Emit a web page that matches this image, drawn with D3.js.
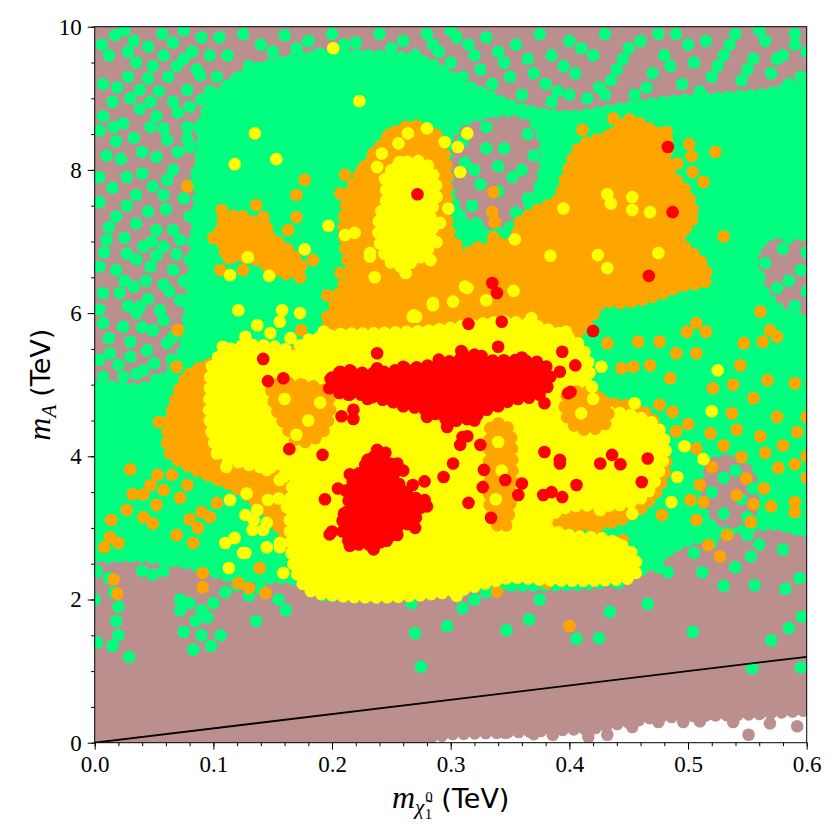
<!DOCTYPE html>
<html>
<head>
<meta charset="utf-8">
<script src="https://cdn.jsdelivr.net/npm/d3@7"></script>
<style>
  body { margin: 0; background: #fff; }
  svg { display: block; }
</style>
</head>
<body>
<div id="chart"></div>
<script>
/*------------------------------------------------------------------
 *  m_A vs neutralino mass scatter (dense cores + scattered points)
 *------------------------------------------------------------------*/
const xTicks = [0, 0.1, 0.2, 0.3, 0.4, 0.5, 0.6]
const yTicks = [0, 2, 4, 6, 8, 10]

// m_A = 2 m_chi reference line
const diagX = [0, 0.6]
const diagY = [0, 1.2]

// ---- dense regions [m_chi, m_A] ----
const brownCore = [[0,-0.5],[0.27,-0.5],[0.27,0.02],[0.3,0.12],[0.36,0.15],[0.42,0.2],[0.47,0.35],[0.52,0.38],[0.56,0.4],[0.6,0.45],[0.65,0.45],[0.65,10.5],[0,10.5],[-0.05,10.5],[-0.05,-0.5]]

const greenCore = [[0.095,8.84],[0.122,9.3],[0.17,9.55],[0.23,9.6],[0.28,9.5],[0.3,9.3],[0.33,9.05],[0.36,8.85],[0.40,8.75],[0.44,8.85],[0.48,8.95],[0.52,9.0],[0.56,9.05],[0.61,9.1],[0.61,7.15],[0.57,7.1],[0.555,6.8],[0.56,6.4],[0.58,6.0],[0.61,5.8],[0.61,3.0],[0.57,3.05],[0.53,2.95],[0.49,2.75],[0.465,2.45],[0.43,2.25],[0.38,2.2],[0.3,2.2],[0.25,2.2],[0.2,2.2],[0.16,2.3],[0.12,2.3],[0.08,2.5],[0.04,2.6],[-0.01,2.7],[-0.01,4.9],[0.04,4.95],[0.06,5.1],[0.075,5.5],[0.08,6.2],[0.085,7.0],[0.088,7.8],[0.09,8.4]]

const brownPatches = [
  [[0.31,8.5],[0.335,8.65],[0.36,8.65],[0.37,8.35],[0.368,7.9],[0.355,7.45],[0.338,7.25],[0.32,7.35],[0.308,7.7],[0.305,8.1]],
  [[0.522,3.9],[0.542,3.92],[0.555,3.6],[0.55,3.15],[0.528,3.1],[0.516,3.5]]
]

const orangeCores = [
  [[0.068,4.79],[0.08,5.15],[0.1,5.3],[0.13,5.35],[0.165,5.45],[0.19,5.6],[0.2,6.0],[0.21,6.4],[0.232,6.62],[0.274,6.75],[0.316,6.85],[0.358,7.0],[0.392,6.88],[0.417,6.53],[0.426,6.18],[0.409,5.76],[0.392,5.48],[0.401,5.07],[0.426,4.79],[0.46,4.65],[0.476,4.37],[0.481,3.81],[0.468,3.39],[0.443,3.11],[0.392,2.97],[0.342,2.55],[0.316,2.34],[0.283,2.27],[0.207,2.2],[0.175,2.45],[0.16,2.9],[0.14,3.3],[0.12,3.55],[0.1,3.7],[0.08,3.85],[0.062,4.09]],
  [[0.215,7.7],[0.235,8.2],[0.25,8.5],[0.268,8.62],[0.287,8.5],[0.296,8.1],[0.297,7.3],[0.302,6.8],[0.29,6.4],[0.25,6.3],[0.22,6.5],[0.21,7.1]],
  [[0.409,8.32],[0.437,8.51],[0.448,8.7],[0.465,8.6],[0.482,8.42],[0.482,8.04],[0.499,7.68],[0.504,7.34],[0.493,7.02],[0.51,6.74],[0.516,6.46],[0.493,6.37],[0.471,6.23],[0.443,6.14],[0.423,6.18],[0.409,6.09],[0.395,6.18],[0.381,6.37],[0.367,6.79],[0.356,7.2],[0.373,7.44],[0.39,7.58],[0.398,7.95]],
  [[0.108,7.3],[0.125,7.35],[0.145,7.1],[0.165,6.85],[0.175,6.6],[0.16,6.55],[0.135,6.75],[0.11,6.85]]
]

const yellowCores = [
  [[0.173,5.55],[0.198,5.69],[0.24,5.72],[0.283,5.76],[0.316,5.83],[0.35,5.88],[0.384,5.76],[0.409,5.55],[0.417,5.2],[0.413,4.79],[0.426,4.65],[0.451,4.58],[0.472,4.44],[0.481,4.16],[0.476,3.81],[0.464,3.46],[0.443,3.32],[0.417,3.32],[0.392,3.25],[0.379,3.04],[0.4,2.9],[0.434,2.83],[0.454,2.62],[0.455,2.34],[0.426,2.27],[0.384,2.27],[0.35,2.3],[0.333,2.24],[0.308,2.13],[0.274,2.06],[0.24,2.03],[0.207,2.05],[0.181,2.13],[0.169,2.41],[0.165,2.83],[0.165,3.39],[0.169,3.81],[0.173,4.37],[0.173,5.07]],
  [[0.1,5.3],[0.115,5.5],[0.14,5.55],[0.165,5.45],[0.175,5.05],[0.178,4.5],[0.17,4.0],[0.15,3.85],[0.125,3.9],[0.105,4.05],[0.097,4.5],[0.097,4.9]],
  [[0.245,7.9],[0.255,8.05],[0.265,8.12],[0.278,8.1],[0.286,7.9],[0.288,7.6],[0.283,7.4],[0.285,7.1],[0.279,6.85],[0.266,6.7],[0.255,6.65],[0.246,6.78],[0.24,7.0],[0.24,7.35],[0.246,7.6]]
]

// orange showing through holes in the yellow cores
const orangeGaps = [
  [[0.335,4.45],[0.348,4.4],[0.352,3.9],[0.35,3.3],[0.345,3.0],[0.336,3.1],[0.332,3.6],[0.333,4.1]],
  [[0.15,4.98],[0.175,5.0],[0.195,4.9],[0.198,4.6],[0.19,4.3],[0.172,4.2],[0.16,4.45],[0.152,4.7]],
  [[0.398,4.85],[0.415,4.9],[0.432,4.7],[0.43,4.45],[0.41,4.38],[0.398,4.55]]
]

const redCores = [
  [[0.196,4.99],[0.207,5.18],[0.232,5.16],[0.253,5.2],[0.274,5.25],[0.297,5.32],[0.316,5.37],[0.333,5.34],[0.358,5.34],[0.379,5.28],[0.384,5.07],[0.375,4.86],[0.354,4.79],[0.333,4.67],[0.316,4.53],[0.3,4.5],[0.283,4.62],[0.27,4.68],[0.253,4.75],[0.24,4.8],[0.224,4.86],[0.207,4.88]],
  [[0.219,3.67],[0.228,3.88],[0.239,4.02],[0.249,3.92],[0.253,3.7],[0.261,3.53],[0.272,3.39],[0.274,3.22],[0.266,3.08],[0.253,2.97],[0.245,2.83],[0.228,2.76],[0.213,2.83],[0.208,3.04],[0.215,3.32],[0.211,3.5]]
]

// ---- scattered points [m_chi, m_A] ----
const brownPts = [[0.496,0.29],[0.538,0.29],[0.551,0.11],[0.592,0.23],[0.569,0.27],[0.475,0.29],[0.453,0.22],[0.432,0.11],[0.416,0.08],[0.386,0.11],[0.346,0.14],[0.285,0.11],[0.311,0.2],[0.516,0.39],[0.37,0.12],[0.51,0.3]]

const greenPts = [
  [0.006,9.75],[0.017,9.88],[0.033,9.8],[0.045,9.72],[0.066,9.78],[0.082,9.65],[0.097,9.6],
  [0.035,9.5],[0.049,9.45],[0.069,9.45],[0.086,9.4],
  [0.007,9.2],[0.019,9.15],[0.038,9.12],[0.054,9.1],[0.078,9.12],[0.089,9.32],[0.103,9.3],
  [0.007,8.75],[0.024,8.65],[0.038,8.85],[0.052,8.75],[0.066,8.95],[0.08,8.88],[0.09,8.98],
  [0.018,8.4],[0.033,8.45],[0.047,8.6],[0.061,8.42],[0.078,8.44],[0.078,8.6],
  [0.01,8.2],[0.027,7.9],[0.052,8.18],[0.066,8.0],[0.08,8.32],[0.092,8.14],
  [0.004,7.9],[0.035,7.65],[0.049,7.77],[0.061,7.86],[0.075,7.6],
  [0.004,7.55],[0.018,7.35],[0.035,7.25],[0.052,7.16],[0.066,7.16],[0.08,7.35],
  [0.01,7.02],[0.027,6.83],[0.041,6.93],[0.058,6.93],[0.072,7.02],
  [0.004,6.65],[0.018,6.6],[0.033,6.37],[0.047,6.65],[0.066,6.6],[0.08,6.74],
  [0.007,6.28],[0.021,6.28],[0.038,6.09],[0.055,6.04],[0.072,6.18],
  [0.007,5.86],[0.024,5.81],[0.035,6.0],[0.049,5.76],[0.066,5.67],[0.08,5.9],
  [0.013,5.44],[0.03,5.39],[0.044,5.48],[0.061,5.58],
  [0.007,5.11],[0.024,5.11],[0.041,5.2],[0.016,4.95],[0.052,5.07],
  [0.025,9.95],[0.057,9.9],[0.075,9.95],[0.09,9.85],
  [0.012,9.6],[0.028,9.65],[0.058,9.6],[0.075,9.55],
  [0.028,9.3],[0.045,9.28],[0.062,9.3],[0.097,9.1],
  [0.015,8.95],[0.03,9.0],[0.047,8.95],[0.07,8.8],
  [0.004,8.55],[0.016,8.6],[0.058,8.58],[0.088,8.6],
  [0.022,8.15],[0.04,8.25],[0.07,8.25],[0.086,7.95],
  [0.015,7.75],[0.04,7.95],[0.058,7.65],[0.082,7.8],[0.09,7.6],
  [0.027,7.5],[0.045,7.42],[0.06,7.45],[0.087,7.2],
  [0.012,7.2],[0.025,7.05],[0.048,7.0],[0.083,7.0],
  [0.008,6.85],[0.035,6.75],[0.052,6.8],[0.069,6.82],[0.086,6.55],
  [0.025,6.45],[0.043,6.45],[0.058,6.4],[0.075,6.45],
  [0.004,6.05],[0.028,6.1],[0.045,6.2],[0.063,6.3],[0.085,6.2],
  [0.012,5.65],[0.03,5.6],[0.058,5.9],[0.075,5.75],[0.04,5.8],
  [0.004,5.35],[0.02,5.28],[0.05,5.3],[0.065,5.35],[0.035,5.15],
  [0.105,9.85],[0.125,9.9],[0.14,9.75],[0.16,9.88],[0.18,9.8],[0.2,9.9],[0.22,9.78],[0.24,9.9],[0.26,9.8],[0.28,9.9],[0.29,9.65],[0.3,9.5],
  [0.112,9.6],[0.13,9.45],[0.15,9.65],[0.17,9.7],[0.19,9.62],[0.21,9.75],[0.25,9.7],[0.27,9.6],[0.285,9.75],[0.3,9.95],
  [0.305,9.85],[0.31,9.3],[0.32,9.6],[0.33,9.85],[0.335,9.2],[0.345,9.5],[0.355,9.75],[0.36,9.05],[0.37,9.35],[0.375,9.9],[0.385,9.6],[0.39,9.1],[0.4,9.8],[0.405,9.35],[0.415,9.0],[0.42,9.6],[0.43,9.9],[0.435,9.25],[0.445,9.55],[0.455,9.05],[0.46,9.8],[0.47,9.35],[0.48,9.6],[0.49,9.9],[0.495,9.2],[0.505,9.5],[0.515,9.8],[0.52,9.3],[0.53,9.6],[0.54,9.9],[0.545,9.25],[0.555,9.55],[0.565,9.8],[0.57,9.35],[0.58,9.6],[0.59,9.9],[0.595,9.3],[0.6,9.65],
  [0.315,9.75],[0.325,9.4],[0.34,9.65],[0.35,9.3],[0.365,9.55],[0.38,9.2],[0.395,9.45],[0.41,9.7],[0.425,9.15],[0.44,9.4],[0.45,9.7],[0.465,9.15],[0.475,9.9],[0.485,9.45],[0.5,9.75],[0.51,9.1],[0.525,9.45],[0.535,9.75],[0.55,9.4],[0.56,9.95],[0.575,9.55],[0.585,9.2],[0.59,9.75],[0.385,8.95],[0.4,9.05],[0.43,9.05],[0.33,8.95],[0.345,8.85],
  [0.31,8.4],[0.32,8.0],[0.33,8.6],[0.34,7.7],[0.345,8.3],[0.355,7.4],[0.36,8.0],[0.35,7.2],[0.365,8.5],[0.318,7.5],
  [0.312,8.1],[0.325,7.8],[0.33,8.3],[0.352,7.9],[0.37,8.2],[0.34,8.05],[0.322,7.25],[0.365,7.6],
  [0.55,7.0],[0.565,6.7],[0.58,6.9],[0.595,6.6],[0.555,6.3],[0.575,6.35],[0.59,6.1],[0.57,5.95],
  [0.585,7.05],[0.6,6.85],[0.56,6.5],[0.585,6.45],[0.6,6.3],[0.56,6.1],[0.58,5.85],
  [0.53,3.7],[0.545,3.4],[0.53,3.2],[0.52,3.5],[0.54,3.8],[0.555,3.55],[0.55,3.15],
  [0.002,2.39],[0.012,2.3],[0.016,2.1],[0.02,1.9],[0.018,1.7],[0.02,1.5],[0.015,1.35],[0.002,1.4],[0.029,1.2],[0.072,1.85],[0.08,1.95],[0.09,1.85],[0.085,1.7],[0.095,1.75],[0.1,1.95],[0.075,1.55],[0.09,1.5],[0.098,1.35],[0.083,1.3],[0.106,1.5],[0.072,2.0],[0.058,2.4],[0.04,2.4],[0.049,2.35],[0.136,1.7],[0.161,1.85],[0.192,2.06],[0.2,2.05],[0.267,1.95],[0.27,1.53],[0.275,1.06],[0.297,1.63],[0.31,1.88],[0.32,2.0],[0.33,2.1],[0.347,1.57],[0.366,1.72],[0.375,2.0],[0.406,1.45],[0.425,1.46],[0.434,1.83],[0.466,1.94],[0.504,1.55],[0.57,1.43],[0.585,1.6],[0.596,1.76],[0.554,1.04],[0.595,1.05],[0.53,2.19],[0.556,2.2],[0.582,2.15],[0.594,2.3],[0.553,2.6],[0.54,2.45],[0.512,2.38],[0.483,2.38],[0.475,2.45],[0.458,2.66],[0.441,2.23],[0.56,2.77],[0.58,2.7],[0.505,2.65],[0.12,2.2],[0.14,2.15],[0.155,2.0],[0.13,2.05],[0.11,2.1],[0.03,2.6],[0.06,2.55],[0.0,2.0],[0.55,2.9],[0.52,2.8]
]

const orangePts = [
  [0.03,3.82],[0.032,3.47],[0.041,3.47],[0.047,3.6],[0.053,3.74],[0.065,3.74],[0.058,3.53],[0.052,3.32],[0.041,3.15],[0.049,3.06],[0.027,3.25],[0.014,3.11],[0.013,2.87],[0.02,2.79],[0.008,2.73],[0.016,2.28],[0.019,2.08],[0.069,2.9],[0.083,2.79],[0.08,3.12],[0.087,3.0],[0.09,3.22],[0.072,3.42],[0.078,3.6],[0.091,2.37],[0.091,2.17],[0.121,2.23],[0.13,2.16],[0.139,2.44],[0.144,2.09],[0.103,3.35],[0.097,3.15],[0.066,4.32],[0.078,4.22],[0.089,4.32],[0.054,4.48],
  [0.078,7.77],[0.07,5.76],[0.069,5.25],[0.107,7.44],[0.136,7.51],[0.142,7.34],[0.177,7.86],[0.17,7.65],[0.17,7.34],[0.163,7.16],[0.106,6.6],[0.113,6.77],[0.184,6.74],[0.173,6.5],[0.196,6.25],[0.212,5.95],[0.196,5.95],[0.174,5.76],[0.207,7.67],[0.211,7.93],[0.226,8.02],[0.235,8.23],[0.248,8.49],[0.218,7.39],[0.215,6.98],[0.207,6.56],
  [0.11,7.2],[0.12,7.0],[0.13,6.9],[0.15,7.0],[0.155,6.8],[0.125,6.6],[0.1,7.05],[0.145,7.2],
  [0.541,4.37],[0.561,4.28],[0.592,4.34],[0.519,4.32],[0.507,4.11],[0.545,3.99],[0.576,3.84],[0.59,3.89],[0.549,3.69],[0.564,3.55],[0.541,3.46],[0.555,3.33],[0.59,3.36],[0.59,3.22],[0.553,3.08],[0.533,2.9],[0.517,2.76],[0.527,2.6],[0.502,3.39],[0.513,3.36],[0.507,3.11],[0.478,3.18],[0.422,3.0],[0.445,2.83],[0.339,2.11],[0.381,2.23],[0.4,1.63],
  [0.5,4.45],[0.53,4.15],[0.565,4.05],[0.58,4.15],[0.6,3.7],[0.57,3.3],[0.52,3.85],[0.49,4.35],[0.6,4.55],[0.6,4.0],[0.575,4.55],[0.51,3.6],
  [0.523,8.25],[0.501,8.36],[0.503,8.19],[0.491,8.09],[0.504,7.97],[0.513,7.83],[0.53,7.07],[0.503,7.33],[0.5,7.53],[0.513,6.6],[0.499,6.5],[0.561,6.02],[0.569,5.76],[0.575,5.67],[0.547,5.58],[0.563,5.6],[0.507,5.86],[0.515,5.74],[0.499,5.74],[0.476,5.6],[0.458,5.6],[0.444,5.23],[0.454,5.25],[0.468,5.27],[0.485,5.09],[0.49,5.44],[0.507,5.44],[0.544,5.27],[0.567,5.06],[0.59,5.02],[0.521,4.95],[0.538,5.0],[0.555,4.81],[0.476,4.72],[0.487,4.62],[0.537,4.6],[0.42,6.0],[0.432,5.58],[0.336,7.69],[0.335,7.41],[0.337,7.27],[0.336,7.06],[0.305,6.95],[0.323,6.92],[0.326,6.78],[0.411,8.56],[0.437,8.72],[0.451,8.7],[0.471,8.51],[0.482,8.53]
]

const yellowPts = [
  [0.201,9.7],[0.223,8.96],[0.135,8.51],[0.118,8.08],[0.153,8.15],[0.197,7.22],[0.211,7.09],[0.219,7.12],[0.177,6.89],[0.129,6.78],[0.114,6.53],[0.147,6.52],[0.121,6.04],[0.158,6.04],[0.173,6.0],[0.156,5.88],[0.137,5.83],[0.193,5.74],[0.216,5.47],[0.236,5.58],[0.263,5.58],[0.268,5.95],
  [0.238,8.04],[0.242,8.23],[0.256,8.37],[0.264,8.51],[0.28,8.58],[0.257,8.11],[0.246,7.48],[0.232,6.84],[0.236,6.5],[0.262,6.56],[0.295,8.39],[0.306,8.32],[0.314,8.51],[0.308,7.97],[0.298,7.46],[0.291,7.26],[0.288,6.99],[0.232,6.79],[0.283,6.74],[0.271,5.95],[0.314,6.35],[0.302,6.16],[0.285,6.14],[0.33,6.18],[0.308,5.76],
  [0.432,7.66],[0.435,7.53],[0.453,7.62],[0.453,7.44],[0.468,7.41],[0.395,7.46],[0.354,7.03],[0.384,6.8],[0.424,6.81],[0.475,6.84],[0.432,6.63],[0.353,6.31],[0.368,5.93],[0.397,5.74],[0.336,5.83],[0.525,5.2],[0.52,4.63],[0.455,4.74],[0.427,5.25],[0.419,4.97],[0.312,6.37],
  [0.497,4.14],[0.513,3.96],[0.491,3.71],[0.486,3.36],[0.453,3.2],[0.45,3.39],[0.439,2.79],[0.426,3.25],[0.305,2.05],
  [0.103,4.04],[0.111,3.85],[0.114,3.39],[0.128,3.48],[0.11,2.79],[0.118,2.86],[0.113,2.44],[0.127,2.65],[0.137,3.25],[0.142,2.97],[0.145,2.73],[0.156,2.73],[0.159,2.37],[0.145,3.81],[0.159,3.71],[0.155,3.41],[0.134,3.11],[0.127,3.18],[0.137,3.95],[0.146,3.88],[0.146,3.39],[0.156,3.67],[0.164,3.84],[0.162,3.29],[0.133,2.97],[0.145,3.07],[0.156,2.79],[0.125,2.65],
  [0.127,5.67],[0.108,5.53],[0.106,5.25],[0.148,5.72],[0.165,5.65],[0.181,5.48],[0.217,5.45],[0.269,5.97],[0.285,6.11],[0.314,5.79],
  [0.34,4.2],[0.343,3.8],[0.338,3.4],[0.16,4.8],[0.18,4.5],[0.19,4.75],[0.17,4.3],[0.41,4.6],[0.42,4.8]
]

const redPts = [
  [0.483,8.32],[0.487,7.41],[0.467,6.52],[0.335,6.42],[0.339,6.28],[0.343,5.88],[0.42,5.75],[0.272,7.66],[0.315,5.85],[0.142,5.36],[0.146,5.05],[0.159,5.09],[0.238,5.44],[0.238,5.23],[0.214,4.86],[0.208,4.56],[0.218,4.65],[0.218,4.52],[0.164,4.1],[0.192,4.02],[0.194,3.4],[0.198,2.91],[0.246,2.82],[0.278,3.65],[0.255,3.9],[0.238,4.09],[0.31,5.44],[0.314,4.28],[0.308,4.16],[0.302,3.9],[0.294,3.71],[0.315,3.35],[0.297,4.41],[0.28,4.55],[0.394,5.46],[0.326,5.4],[0.405,5.27],[0.392,5.18],[0.401,4.9],[0.379,4.74],[0.31,4.27],[0.325,4.16],[0.379,4.06],[0.392,3.9],[0.426,3.9],[0.436,4.02],[0.443,3.89],[0.466,3.97],[0.461,3.64],[0.328,3.81],[0.327,3.57],[0.346,3.67],[0.36,3.62],[0.357,3.46],[0.378,3.46],[0.385,3.5],[0.394,3.43],[0.406,3.6],[0.334,3.14],[0.278,3.39],[0.309,5.47],[0.34,5.53],[0.399,4.88],[0.392,3.95],
  [0.2,5.1],[0.215,5.2],[0.225,5.05],[0.26,5.25],[0.29,5.35],[0.32,5.42],[0.36,5.38],[0.37,5.2],[0.36,4.9],[0.34,4.7],[0.32,4.5],[0.3,4.55],[0.26,4.7],[0.23,4.8],[0.21,4.95],
  [0.205,3.55],[0.215,3.75],[0.23,3.95],[0.245,4.05],[0.26,3.8],[0.268,3.6],[0.28,3.3],[0.27,3.0],[0.255,2.9],[0.235,2.7],[0.215,2.75],[0.2,2.95],[0.21,3.2]
]

const colors = { brown: '#bc8f8f', green: '#00ff7f', orange: '#ffa500', yellow: '#ffff00', red: '#ff0000' }

/*------------------------------------------------------------------
 *  Layout
 *------------------------------------------------------------------*/
const width = 840, height = 840
const margin = { top: 26.7, right: 33.3, bottom: 97.3, left: 94.7 }
const plotW = width - margin.left - margin.right,
      plotH = height - margin.top - margin.bottom
const dotR = 6.3

const svg = d3.select('#chart').append('svg')
    .attr('width', width)
    .attr('height', height)

const xScale = d3.scaleLinear().domain([0, 0.6]).range([0, plotW])
const yScale = d3.scaleLinear().domain([0, 10]).range([plotH, 0])

const g = svg.append('g')
    .attr('transform', 'translate(' + margin.left + ',' + margin.top + ')')

svg.append('defs').append('clipPath').attr('id', 'plotclip')
  .append('rect').attr('width', plotW).attr('height', plotH)

const marks = g.append('g').attr('clip-path', 'url(#plotclip)')

const smoothLine = d3.line()
    .x(d => xScale(d[0]))
    .y(d => yScale(d[1]))
    .curve(d3.curveCatmullRomClosed.alpha(0.5))
const flatLine = d3.line()
    .x(d => xScale(d[0]))
    .y(d => yScale(d[1]))
    .curve(d3.curveLinearClosed)

// dense core: filled shape with a chain of dots round its edge
function drawCores(cores, color, smooth) {
  const line = smooth ? smoothLine : flatLine
  marks.append('g').selectAll('path')
    .data(cores)
    .join('path')
      .attr('d', d => line(d))
      .attr('fill', color)
      .attr('stroke', color)
      .attr('stroke-width', dotR * 2)
      .attr('stroke-dasharray', '0 11')
      .attr('stroke-linecap', 'round')
}

function drawDots(pts, color) {
  marks.append('g').selectAll('circle')
    .data(pts)
    .join('circle')
      .attr('cx', d => xScale(d[0]))
      .attr('cy', d => yScale(d[1]))
      .attr('r', dotR)
      .attr('fill', color)
}

drawCores([brownCore], colors.brown, false)
drawDots(brownPts, colors.brown)
drawCores([greenCore], colors.green, true)
drawCores(brownPatches, colors.brown, true)
drawDots(greenPts, colors.green)
drawCores(orangeCores, colors.orange, true)
drawDots(orangePts, colors.orange)
drawCores(yellowCores, colors.yellow, true)
drawCores(orangeGaps, colors.orange, true)
drawDots(yellowPts, colors.yellow)
drawCores(redCores, colors.red, true)
drawDots(redPts, colors.red)

// reference line
marks.append('path')
    .datum(diagX.map((d, i) => [d, diagY[i]]))
    .attr('d', d3.line().x(d => xScale(d[0])).y(d => yScale(d[1])))
    .attr('fill', 'none')
    .attr('stroke', '#000')
    .attr('stroke-width', 1.8)

/*------------------------------------------------------------------
 *  Axes
 *------------------------------------------------------------------*/
const tickFont = '"Liberation Serif", "DejaVu Serif", serif'
const xMinor = d3.range(0, 0.6001, 0.02)
const yMinor = d3.range(0, 10.001, 0.5)

g.append('g')
    .attr('transform', 'translate(0,' + plotH + ')')
    .call(d3.axisBottom(xScale).tickValues(xMinor).tickSize(3.5).tickFormat(''))
    .call(a => a.select('.domain').remove())

g.append('g')
    .attr('transform', 'translate(0,' + plotH + ')')
    .call(d3.axisBottom(xScale).tickValues(xTicks).tickSize(7).tickPadding(6).tickFormat(d3.format('.1f')))
    .call(a => a.select('.domain').remove())
    .selectAll('text')
      .attr('font-family', tickFont)
      .attr('font-size', 23)
      .attr('fill', '#000')

g.append('g')
    .call(d3.axisLeft(yScale).tickValues(yMinor).tickSize(3.5).tickFormat(''))
    .call(a => a.select('.domain').remove())

g.append('g')
    .call(d3.axisLeft(yScale).tickValues(yTicks).tickSize(7).tickPadding(6).tickFormat(d3.format('d')))
    .call(a => a.select('.domain').remove())
    .selectAll('text')
      .attr('font-family', tickFont)
      .attr('font-size', 23)
      .attr('fill', '#000')

g.selectAll('.tick line').attr('stroke', '#000').attr('stroke-width', 1)

// frame
g.append('rect')
    .attr('width', plotW)
    .attr('height', plotH)
    .attr('fill', 'none')
    .attr('stroke', '#000')
    .attr('stroke-width', 1)

/*------------------------------------------------------------------
 *  Axis labels
 *------------------------------------------------------------------*/
const sansFont = '"DejaVu Sans", sans-serif'

const xl = svg.append('text')
    .attr('x', margin.left + plotW / 2)
    .attr('y', 808)
    .attr('text-anchor', 'middle')
    .attr('fill', '#000')
xl.append('tspan').attr('font-family', tickFont).attr('font-style', 'italic').attr('font-size', 32).text('m')
xl.append('tspan').attr('font-family', tickFont).attr('font-style', 'italic').attr('font-size', 21).attr('dy', 6).text('\u03c7\u0303')
xl.append('tspan').attr('font-family', tickFont).attr('font-size', 15).attr('dy', -12).attr('dx', 1).text('0')
xl.append('tspan').attr('font-family', tickFont).attr('font-size', 15).attr('dy', 17).attr('dx', -8).text('1')
xl.append('tspan').attr('font-family', sansFont).attr('font-size', 27).attr('dy', -11).attr('dx', 9).text('(TeV)')

const yl = svg.append('text')
    .attr('transform', 'translate(50,' + (margin.top + plotH / 2) + ') rotate(-90)')
    .attr('text-anchor', 'middle')
    .attr('fill', '#000')
yl.append('tspan').attr('font-family', tickFont).attr('font-style', 'italic').attr('font-size', 32).text('m')
yl.append('tspan').attr('font-family', tickFont).attr('font-style', 'italic').attr('font-size', 21).attr('dy', 6).text('A')
yl.append('tspan').attr('font-family', sansFont).attr('font-size', 27).attr('dy', -6).attr('dx', 8).text('(TeV)')
</script>
</body>
</html>
